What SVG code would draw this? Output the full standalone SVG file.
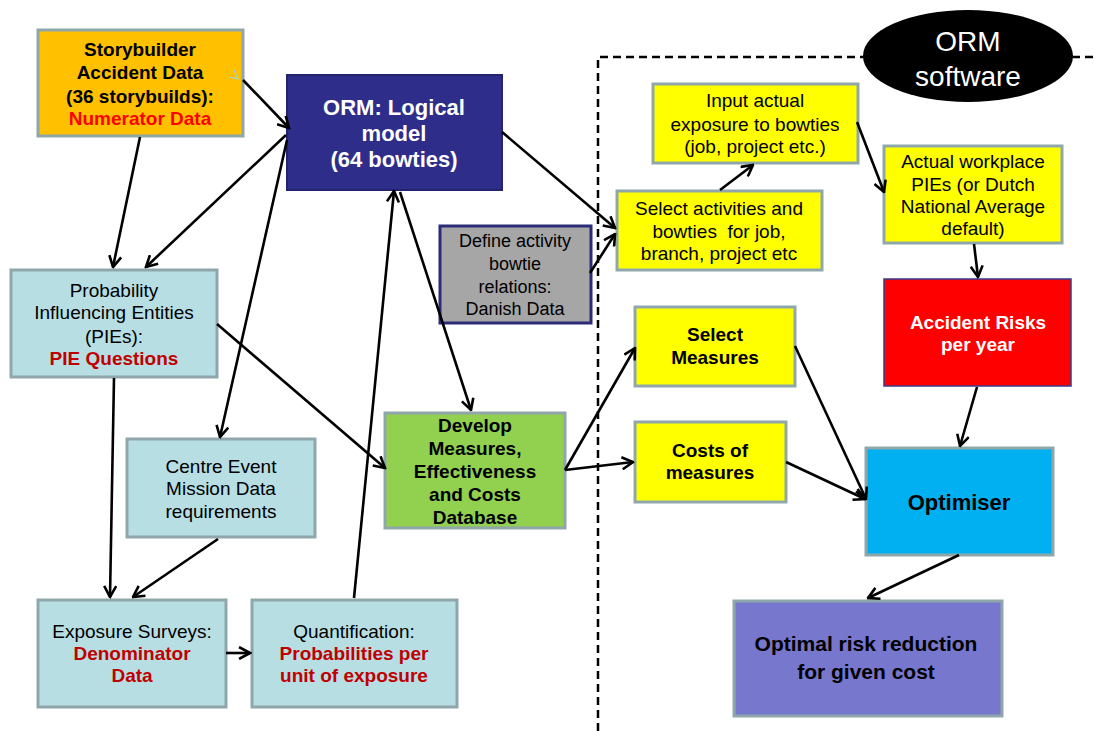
<svg xmlns="http://www.w3.org/2000/svg" width="1095" height="731" viewBox="0 0 1095 731">
<defs>
<style>
text{font-family:"Liberation Sans",Arial,sans-serif;font-size:19px;text-anchor:middle;fill:#000}
.b{font-weight:bold}
.w{fill:#fff}
.r{fill:#FF0000}
.dr{fill:#C00000}
.box{stroke:#8FA7AA;stroke-width:3}
.teal{fill:#B7DEE3}
.yel{fill:#FFFF00}
.c line{stroke:#000;stroke-width:2.6;marker-end:url(#a)}
.dash{stroke:#000;stroke-width:2.5;stroke-dasharray:8 5;fill:none}
</style>
<marker id="a" viewBox="0 0 14 14" refX="12.5" refY="7" markerWidth="14" markerHeight="14" markerUnits="userSpaceOnUse" orient="auto">
<path d="M1.5,1 L12.5,7 L1.5,13" fill="none" stroke="#000" stroke-width="2.6"/>
</marker>
</defs>
<rect width="1095" height="731" fill="#fff"/>

<g id="boundary">
<path class="dash" d="M598,731 V57 H865 M1072,57 H1095"/>
<ellipse cx="968" cy="56" rx="105" ry="46" fill="#000"/>
<text class="w" x="968" y="51" style="font-size:28px">ORM</text>
<text class="w" x="968" y="86" style="font-size:28px">software</text>
</g>

<g id="storybuilder">
<rect class="box" x="38" y="30" width="205" height="106" fill="#FFC000"/>
<text class="b" x="140" y="56">Storybuilder</text>
<text class="b" x="140" y="79">Accident Data</text>
<text class="b" x="140" y="103">(36 storybuilds):</text>
<text class="b r" x="140" y="125">Numerator Data</text>
<path d="M229,77 L238,79 L234,70" fill="none" stroke="#9ED3E0" stroke-width="1.2"/>
</g>

<g id="orm">
<rect x="287" y="75" width="215" height="115" fill="#2E2E8A" stroke="#24246E" stroke-width="2"/>
<text class="b w" x="394" y="115" style="font-size:22px">ORM: Logical</text>
<text class="b w" x="394" y="141" style="font-size:22px">model</text>
<text class="b w" x="394" y="167" style="font-size:22px">(64 bowties)</text>
</g>

<g id="define">
<rect x="440" y="226" width="151" height="97" fill="#A6A6A6" stroke="#2B2B78" stroke-width="3"/>
<text x="515" y="247" style="font-size:18px">Define activity</text>
<text x="515" y="270" style="font-size:18px">bowtie</text>
<text x="515" y="293" style="font-size:18px">relations:</text>
<text x="515" y="315" style="font-size:18px">Danish Data</text>
</g>

<g id="pies">
<rect class="box teal" x="11" y="270" width="206" height="107"/>
<text x="114" y="297">Probability</text>
<text x="114" y="319">Influencing Entities</text>
<text x="114" y="343">(PIEs):</text>
<text class="b dr" x="114" y="365">PIE Questions</text>
</g>

<g id="centre">
<rect class="box teal" x="127" y="439" width="188" height="98"/>
<text x="221" y="473">Centre Event</text>
<text x="221" y="495">Mission Data</text>
<text x="221" y="518">requirements</text>
</g>

<g id="develop">
<rect class="box" x="385" y="413" width="180" height="115" fill="#92D050"/>
<text class="b" x="475" y="432">Develop</text>
<text class="b" x="475" y="455">Measures,</text>
<text class="b" x="475" y="478">Effectiveness</text>
<text class="b" x="475" y="501">and Costs</text>
<text class="b" x="475" y="524">Database</text>
</g>

<g id="exposure">
<rect class="box teal" x="38" y="600" width="188" height="107"/>
<text x="132" y="638">Exposure Surveys:</text>
<text class="b dr" x="132" y="660">Denominator</text>
<text class="b dr" x="132" y="682">Data</text>
</g>

<g id="quant">
<rect class="box teal" x="252" y="600" width="205" height="107"/>
<text x="354" y="638">Quantification:</text>
<text class="b dr" x="354" y="660">Probabilities per</text>
<text class="b dr" x="354" y="682">unit of exposure</text>
</g>

<g id="input">
<rect class="box yel" x="653" y="84" width="205" height="79"/>
<text x="755" y="107">Input actual</text>
<text x="755" y="131">exposure to bowties</text>
<text x="755" y="153">(job, project etc.)</text>
</g>

<g id="selectact">
<rect class="box yel" x="617" y="191" width="205" height="79"/>
<text x="719" y="215">Select activities and</text>
<text x="719" y="238">bowties&#160; for job,</text>
<text x="719" y="260">branch, project etc</text>
</g>

<g id="workplace">
<rect class="box yel" x="884" y="146" width="178" height="97"/>
<text x="973" y="168">Actual workplace</text>
<text x="973" y="191">PIEs (or Dutch</text>
<text x="973" y="213">National Average</text>
<text x="973" y="235">default)</text>
</g>

<g id="risks">
<rect x="884" y="279" width="187" height="107" fill="#FF0000" stroke="#3A3A8A" stroke-width="1.5"/>
<text class="b w" x="978" y="329">Accident Risks</text>
<text class="b w" x="978" y="351">per year</text>
</g>

<g id="selmeas">
<rect class="box yel" x="635" y="307" width="160" height="79"/>
<text class="b" x="715" y="341">Select</text>
<text class="b" x="715" y="364">Measures</text>
</g>

<g id="costs">
<rect class="box yel" x="635" y="422" width="151" height="80"/>
<text class="b" x="710" y="457">Costs of</text>
<text class="b" x="710" y="479">measures</text>
</g>

<g id="optimiser">
<rect class="box" x="866" y="448" width="187" height="107" fill="#00B0F0"/>
<text class="b" x="959" y="510" style="font-size:22px">Optimiser</text>
</g>

<g id="optimal">
<rect class="box" x="734" y="601" width="268" height="115" fill="#7777CE"/>
<text class="b" x="866" y="651" style="font-size:21px">Optimal risk reduction</text>
<text class="b" x="866" y="679" style="font-size:21px">for given cost</text>
</g>

<g class="c" id="connectors">
<line x1="243" y1="80" x2="289" y2="128"/>
<line x1="140" y1="137" x2="113" y2="267"/>
<line x1="286" y1="135" x2="146" y2="267"/>
<line x1="287" y1="140" x2="220" y2="437"/>
<line x1="354" y1="598" x2="394" y2="191"/>
<line x1="400" y1="192" x2="471" y2="410"/>
<line x1="502" y1="132" x2="615" y2="228"/>
<line x1="590" y1="273" x2="615" y2="234"/>
<line x1="720" y1="190" x2="753" y2="165"/>
<line x1="857" y1="122" x2="884" y2="192"/>
<line x1="974" y1="244" x2="978" y2="277"/>
<line x1="977" y1="387" x2="960" y2="446"/>
<line x1="795" y1="346" x2="866" y2="499"/>
<line x1="786" y1="462" x2="865" y2="499"/>
<line x1="565" y1="470" x2="635" y2="348"/>
<line x1="565" y1="470" x2="633" y2="462"/>
<line x1="959" y1="555" x2="868" y2="598"/>
<line x1="217" y1="324" x2="385" y2="468"/>
<line x1="114" y1="378" x2="110" y2="597"/>
<line x1="218" y1="539" x2="133" y2="597"/>
<line x1="226" y1="653" x2="250" y2="653"/>
</g>
</svg>
